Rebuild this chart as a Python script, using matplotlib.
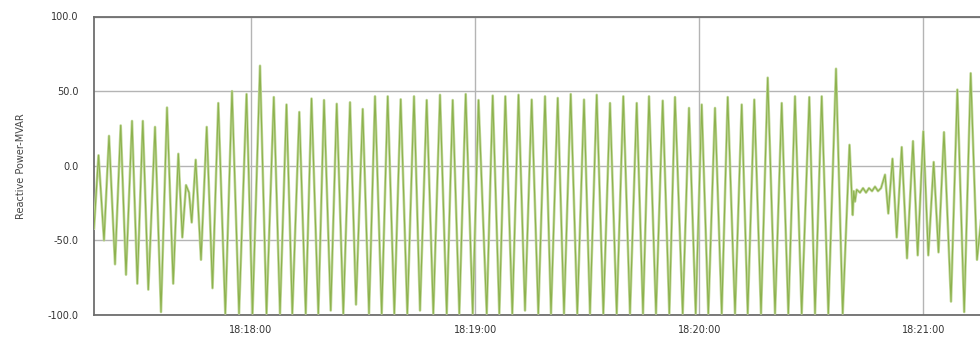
import matplotlib
matplotlib.use("Agg")
import matplotlib.pyplot as plt

# time in seconds after 18:17:00, reactive power in MVAR (turning points)
time_s = [17.96, 19.17, 20.64, 21.98, 23.59, 25.11, 26.53, 28.14, 29.56, 31.03,
          32.50, 34.30, 35.90, 37.51, 39.17, 40.54, 41.61, 42.60, 43.40, 44.12,
          45.19, 46.61, 48.14, 49.69, 51.24, 53.12, 54.91, 56.79, 58.80, 60.40,
          62.41, 64.15, 66.10, 67.76, 69.50, 71.06, 72.93, 74.65, 76.20, 78.02,
          79.55, 81.34, 82.95, 84.71, 86.51, 88.11, 89.91, 91.59, 93.20, 94.99,
          96.60, 98.37, 100.08, 101.85, 103.64, 105.25, 107.04, 108.81, 110.60, 112.40,
          114.00, 115.77, 117.48, 119.36, 120.91, 123.11, 124.71, 126.48, 128.09, 129.96,
          131.62, 133.36, 135.15, 136.92, 138.72, 140.32, 142.12, 143.80, 145.60, 147.36,
          149.16, 150.76, 152.56, 154.33, 156.12, 157.91, 159.68, 161.47, 163.27, 164.95,
          166.56, 168.43, 170.23, 172.00, 173.52, 175.58, 177.27, 179.06, 180.67, 182.44,
          184.23, 186.03, 187.63, 189.59, 191.38, 192.99, 194.75, 196.55, 198.34, 200.30,
          202.09, 203.86, 205.65, 207.44, 209.48, 211.01, 212.80, 214.57, 216.63, 218.42,
          220.24, 221.10, 221.37, 221.71, 222.17, 223.05, 223.86, 224.66, 225.46, 226.27,
          227.07, 227.87, 228.68, 229.75, 230.63, 231.75, 232.88, 234.22, 235.64, 237.24,
          238.50, 240.00, 241.34, 242.78, 244.07, 245.54, 247.42, 249.11, 250.95, 252.69,
          254.38, 255.72]
mvar = [-42, 7, -50, 20, -66, 27, -73, 30, -79, 30,
        -83, 26, -98, 39, -79, 8, -48, -13, -18, -38,
        4, -63, 26, -82, 42, -99, 50, -99, 48, -99,
        67, -99, 46, -99, 41, -99, 36, -99, 45, -99,
        44, -97, 41.5, -99, 42.5, -93, 38, -99, 46.5, -99,
        46.5, -99, 44.5, -99, 46.5, -97, 44, -99, 47.5, -99,
        44, -99, 48, -99, 44, -99, 47, -99, 46.5, -99,
        47.5, -97, 44.3, -99, 46.5, -99, 45.4, -99, 48, -99,
        44.3, -99, 47.5, -99, 42, -99, 46.5, -99, 42, -99,
        46.5, -99, 43.6, -99, 46, -99, 38.7, -99, 41, -99,
        38.7, -99, 46, -99, 41, -99, 44.3, -99, 59, -99,
        42, -99, 46.5, -99, 46, -99, 46.5, -99, 65, -99,
        14, -33, -17, -24, -16, -18, -15, -18, -15, -17,
        -14, -17, -15, -6, -32, 4.7, -48, 12.5, -62, 16.5,
        -60, 23, -60, 2.5, -58, 22.5, -91, 51, -98, 62,
        -63, -30]

x_ticks = [60, 120, 180, 240]
x_tick_labels = ["18:18:00", "18:19:00", "18:20:00", "18:21:00"]
y_ticks = [-100, -50, 0, 50, 100]
y_tick_labels = ["-100.0", "-50.0", "0.0", "50.0", "100.0"]

fig = plt.figure(figsize=(9.8, 3.42), dpi=100)
ax = fig.add_axes([94 / 980, 1 - 315 / 342, 1 - 94 / 980, (315 - 16.5) / 342])

ax.plot(time_s, mvar, color="#c3d99d", lw=1.9, solid_joinstyle="round", zorder=3)
ax.plot(time_s, mvar, color="#8db24e", lw=0.8, solid_joinstyle="round", zorder=4)

ax.set_xlim(17.96, 255.18)
ax.set_ylim(-100, 100)
ax.set_xticks(x_ticks)
ax.set_xticklabels(x_tick_labels)
ax.set_yticks(y_ticks)
ax.set_yticklabels(y_tick_labels)

ax.grid(True, color="#b4b4b4", lw=1.0, zorder=1)
ax.set_axisbelow(True)
for side in ["top", "left", "bottom"]:
    ax.spines[side].set_color("#6e6e6e")
    ax.spines[side].set_linewidth(1.3)
ax.spines["right"].set_visible(False)

ax.tick_params(axis="both", length=0, labelsize=7, labelcolor="#333333")
ax.tick_params(axis="y", pad=11)
ax.tick_params(axis="x", pad=7)
ax.set_ylabel("Reactive Power-MVAR", fontsize=7, color="#444444", labelpad=16)

fig.savefig("out.png", dpi=100)
